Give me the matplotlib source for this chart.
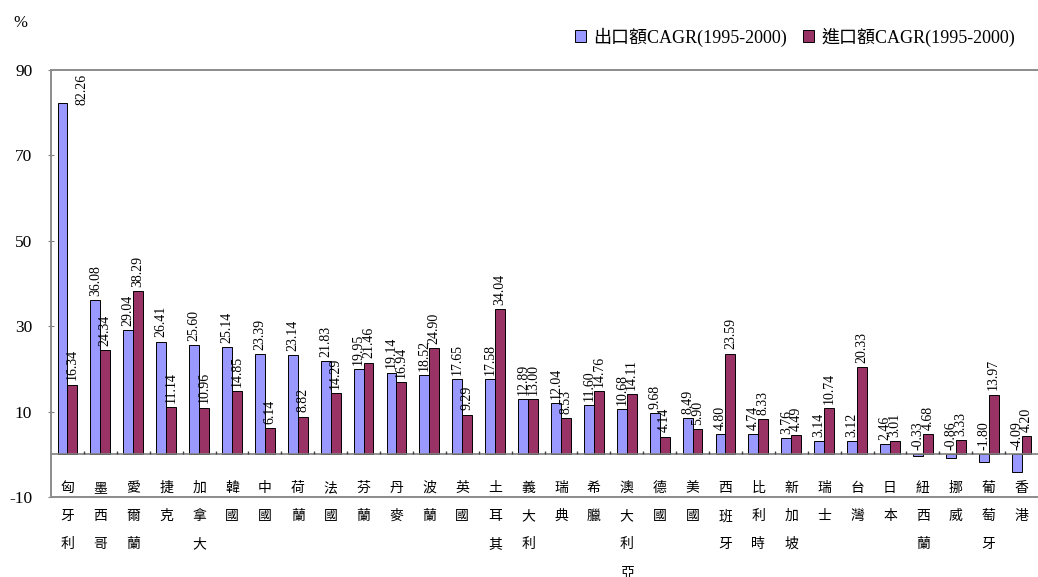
import numpy as np
import matplotlib.pyplot as plt

# countries, stacked one character per line under the axis
countries = ["匈牙利", "墨西哥", "愛爾蘭", "捷克", "加拿大", "韓國", "中國", "荷蘭",
             "法國", "芬蘭", "丹麥", "波蘭", "英國", "土耳其", "義大利", "瑞典",
             "希臘", "澳大利亞", "德國", "美國", "西班牙", "比利時", "新加坡",
             "瑞士", "台灣", "日本", "紐西蘭", "挪威", "葡萄牙", "香港"]

export_cagr = [82.26, 36.08, 29.04, 26.41, 25.60, 25.14, 23.39, 23.14,
               21.83, 19.95, 19.14, 18.52, 17.65, 17.58, 12.89, 12.04,
               11.60, 10.68, 9.68, 8.49, 4.80, 4.74, 3.76,
               3.14, 3.12, 2.46, -0.33, -0.86, -1.80, -4.09]
import_cagr = [16.34, 24.34, 38.29, 11.14, 10.96, 14.85, 6.14, 8.82,
               14.29, 21.46, 16.94, 24.90, 9.29, 34.04, 13.00, 8.53,
               14.76, 14.11, 4.14, 5.90, 23.59, 8.33, 4.49,
               10.74, 20.33, 3.01, 4.68, 3.33, 13.97, 4.20]

series_names = ["出口額CAGR(1995-2000)", "進口額CAGR(1995-2000)"]
yticks = [-10, 10, 30, 50, 70, 90]

num_font = "Liberation Serif"
cjk_font = ["Liberation Serif", "Noto Sans CJK TC", "DejaVu Sans"]

fig = plt.figure(figsize=(10.38, 5.77), dpi=100)
ax = fig.add_axes([51 / 1038, 1 - 497 / 577, 1 - 51 / 1038, (497 - 70) / 577])

x = np.arange(len(countries))
w = 0.3
b1 = ax.bar(x - w / 2, export_cagr, w, color="#9999FF", edgecolor="#000000",
            linewidth=0.7, label=series_names[0], zorder=3)
b2 = ax.bar(x + w / 2, import_cagr, w, color="#993366", edgecolor="#000000",
            linewidth=0.7, label=series_names[1], zorder=3)

ax.set_xlim(-0.5, len(countries) - 0.5)
ax.set_ylim(-10, 90)
ax.set_yticks(yticks)
ax.set_yticklabels([str(t) for t in yticks], family=num_font, fontsize=12.5)
ax.tick_params(axis="y", direction="inout", length=5, color="#808080", pad=11)
ax.set_xticks([])

for side in ["top", "left", "bottom"]:
    ax.spines[side].set_color("#8c8c8c")
    ax.spines[side].set_linewidth(1.4)
ax.spines["right"].set_visible(False)

# category axis at zero with small ticks between groups
ax.axhline(0, color="#808080", linewidth=1.2, zorder=4)
ax.vlines(x[:-1] + 0.5, 0, 0.7, color="#404040", linewidth=1, zorder=4)

# value labels, rotated, sitting above each bar (or above zero for negatives)
ymax = ax.get_ylim()[1]
for xs, vals in [(x - w / 2, export_cagr), (x + w / 2, import_cagr)]:
    for xi, v in zip(xs, vals):
        base = max(v, 0)
        if base + 9 > ymax:
            ax.annotate(f"{v:.2f}", xy=(xi, ymax), xytext=(14, -3),
                        textcoords="offset points", rotation=90,
                        ha="center", va="top", family=num_font, fontsize=10)
        else:
            ax.annotate(f"{v:.2f}", xy=(xi, base), xytext=(0, 3),
                        textcoords="offset points", rotation=90,
                        ha="center", va="bottom", family=num_font, fontsize=10)

# vertical category names below the zero line
for xi, name in zip(x, countries):
    for k, ch in enumerate(name):
        ax.annotate(ch, xy=(xi, 0), xytext=(0, -(34 + 28 * k) * 0.72),
                    textcoords="offset points", ha="center", va="center",
                    family=cjk_font, fontsize=10, annotation_clip=False)

fig.text(20 / 1038, 1 - 23 / 577, "%", family=num_font, fontsize=12,
         ha="center", va="center")

fig.legend(handles=[b1, b2], loc="center left",
           bbox_to_anchor=(575 / 1038, 1 - 37 / 577), ncol=2, frameon=False,
           prop={"family": cjk_font, "size": 13}, borderpad=0, borderaxespad=0,
           handlelength=0.6, handleheight=0.6, handletextpad=0.4,
           columnspacing=0.9)

fig.savefig("out.png", dpi=100)
